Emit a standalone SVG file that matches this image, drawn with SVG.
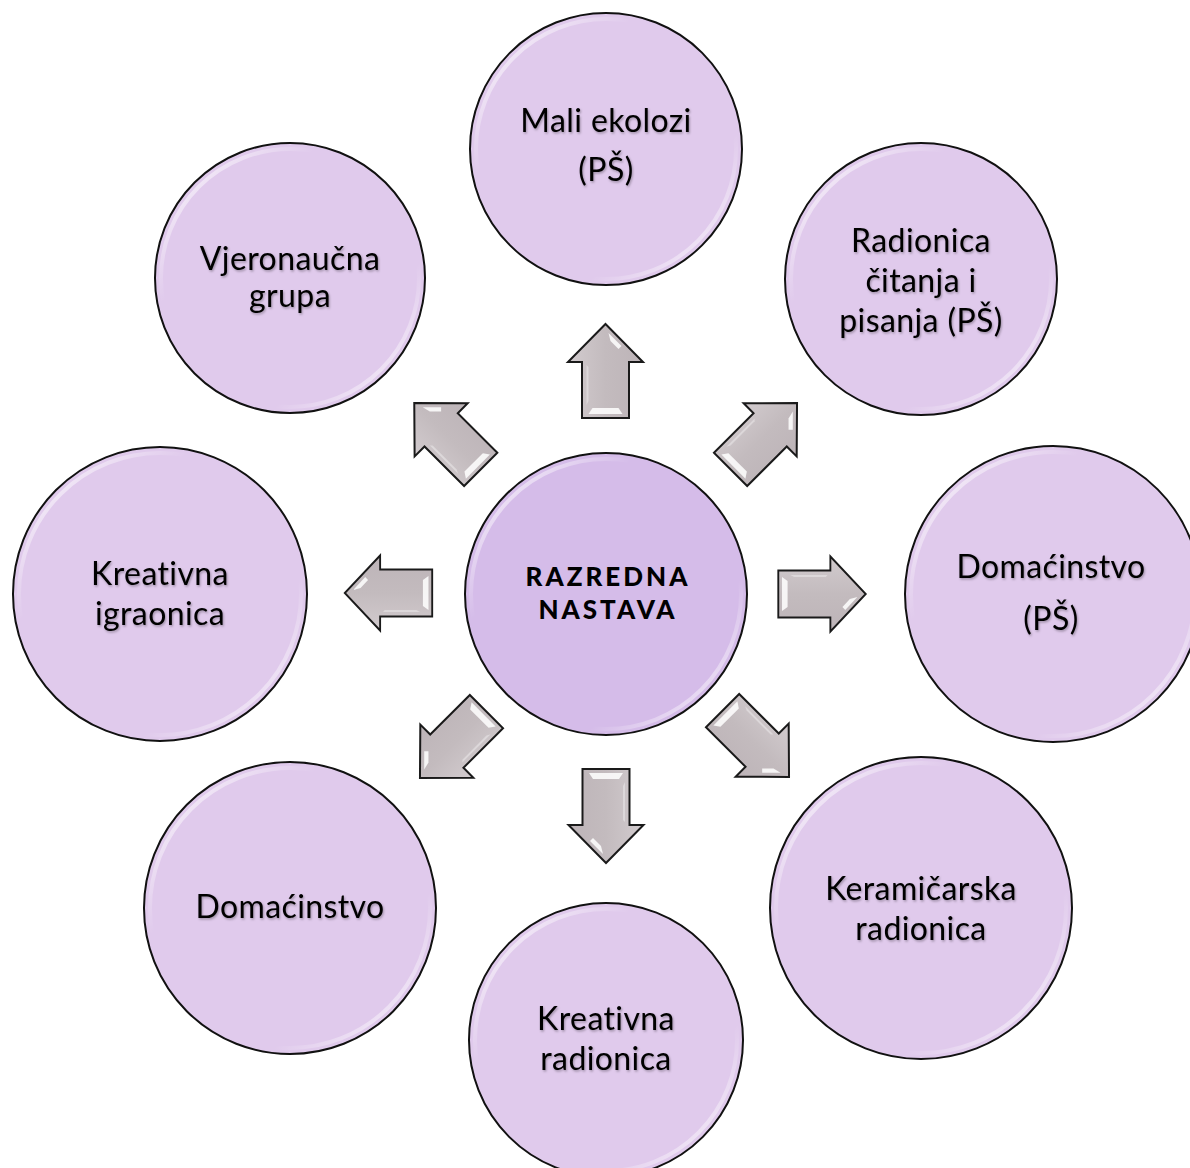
<svg xmlns="http://www.w3.org/2000/svg" xmlns:xlink="http://www.w3.org/1999/xlink" width="1190" height="1168" viewBox="0 0 1190 1168">
<defs>
<linearGradient id="gloss" x1="0" y1="0" x2="1" y2="1">
<stop offset="0" stop-color="#fff" stop-opacity="0.95"/>
<stop offset="0.3" stop-color="#fff" stop-opacity="0"/>
<stop offset="0.72" stop-color="#fff" stop-opacity="0"/>
<stop offset="1" stop-color="#fff" stop-opacity="0.9"/>
</linearGradient>
<linearGradient id="arrowFill" x1="0" y1="0" x2="1" y2="0">
<stop offset="0" stop-color="#d2cbce"/>
<stop offset="0.5" stop-color="#c3bbbe"/>
<stop offset="1" stop-color="#bdb4b8"/>
</linearGradient>
<filter id="ts" x="-10%" y="-20%" width="120%" height="150%">
<feDropShadow dx="1" dy="1.5" stdDeviation="1" flood-color="#000" flood-opacity="0.3"/>
</filter>
<g id="arrow">
<polygon class="arr" points="0,-47 37.5,-9 23.5,-9 23.5,47 -23.5,47 -23.5,-9 -37.5,-9"/>
<polygon class="hl" points="-17,43 17,43 13,37 -13,37"/>
<polygon class="hl" points="3,-38 16,-25 13,-22 5,-30"/>
<polygon class="hl2" points="-19,-6 -17,-4 -17,30 -19,34"/>
</g>
</defs>
<style>
.node{fill:#e0caec;stroke:#111;stroke-width:2}
.center{fill:#d5bce9;stroke:#111;stroke-width:2}
.rim{fill:none;stroke:url(#gloss);stroke-width:4}
.arr{fill:url(#arrowFill);stroke:#1a1a1a;stroke-width:2;stroke-linejoin:miter}
.hl{fill:#fff;opacity:0.85}
.hl2{fill:#fff;opacity:0.35}
.lbl{font-family:Lato,"Open Sans","DejaVu Sans",sans-serif;font-size:32px;letter-spacing:0.4px;fill:#000;text-anchor:middle;filter:url(#ts)}
.clbl{font-family:Lato,"Open Sans","DejaVu Sans",sans-serif;font-size:26px;font-weight:900;fill:#000;text-anchor:middle;letter-spacing:3px}
</style>
<rect width="1190" height="1168" fill="#fff"/>

<g id="connectors">
<use xlink:href="#arrow" transform="translate(605.5,371)"/>
<use xlink:href="#arrow" transform="translate(763.8,436.2) rotate(45)"/>
<use xlink:href="#arrow" transform="translate(822,594) rotate(90) scale(1,0.93)"/>
<use xlink:href="#arrow" transform="translate(755.8,743.8) rotate(135)"/>
<use xlink:href="#arrow" transform="translate(606,816) rotate(180)"/>
<use xlink:href="#arrow" transform="translate(453.2,744.8) rotate(225)"/>
<use xlink:href="#arrow" transform="translate(388.5,593) rotate(270) scale(1,0.93)"/>
<use xlink:href="#arrow" transform="translate(447.5,436.2) rotate(315)"/>
</g>

<g id="node-center">
<circle class="center" cx="606" cy="594" r="141"/>
<circle class="rim" cx="606" cy="594" r="135"/>
<text class="clbl" x="608" y="586">RAZREDNA</text>
<text class="clbl" x="608" y="619">NASTAVA</text>
</g>

<g id="node-mali-ekolozi">
<circle class="node" cx="606" cy="149" r="136"/>
<circle class="rim" cx="606" cy="149" r="130"/>
<text class="lbl" x="606" y="132">Mali ekolozi</text>
<text class="lbl" x="606" y="181">(PŠ)</text>
</g>

<g id="node-radionica-citanja">
<circle class="node" cx="921" cy="279" r="136"/>
<circle class="rim" cx="921" cy="279" r="130"/>
<text class="lbl" x="921" y="252">Radionica</text>
<text class="lbl" x="921" y="292">čitanja i</text>
<text class="lbl" x="921" y="332">pisanja (PŠ)</text>
</g>

<g id="node-domacinstvo-ps">
<circle class="node" cx="1053" cy="594" r="148"/>
<circle class="rim" cx="1053" cy="594" r="142"/>
<text class="lbl" x="1051" y="578">Domaćinstvo</text>
<text class="lbl" x="1051" y="630">(PŠ)</text>
</g>

<g id="node-keramicarska">
<circle class="node" cx="921" cy="908" r="151"/>
<circle class="rim" cx="921" cy="908" r="145"/>
<text class="lbl" x="921" y="900">Keramičarska</text>
<text class="lbl" x="921" y="940">radionica</text>
</g>

<g id="node-kreativna-radionica">
<circle class="node" cx="606" cy="1040" r="137"/>
<circle class="rim" cx="606" cy="1040" r="131"/>
<text class="lbl" x="606" y="1030">Kreativna</text>
<text class="lbl" x="606" y="1070">radionica</text>
</g>

<g id="node-domacinstvo">
<circle class="node" cx="290" cy="908" r="146"/>
<circle class="rim" cx="290" cy="908" r="140"/>
<text class="lbl" x="290" y="918">Domaćinstvo</text>
</g>

<g id="node-kreativna-igraonica">
<circle class="node" cx="160" cy="594" r="147"/>
<circle class="rim" cx="160" cy="594" r="141"/>
<text class="lbl" x="160" y="585">Kreativna</text>
<text class="lbl" x="160" y="625">igraonica</text>
</g>

<g id="node-vjeronaucna">
<circle class="node" cx="290" cy="278" r="135"/>
<circle class="rim" cx="290" cy="278" r="129"/>
<text class="lbl" x="290" y="270">Vjeronaučna</text>
<text class="lbl" x="290" y="307">grupa</text>
</g>
</svg>
